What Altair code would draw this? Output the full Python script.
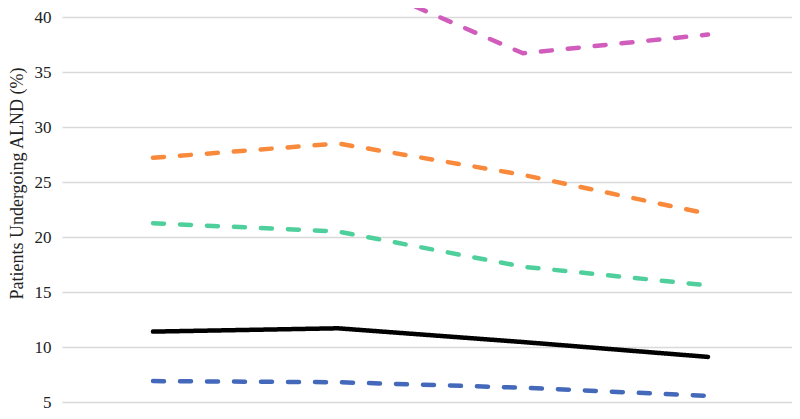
import altair as alt
import pandas as pd

periods = ["Period 1", "Period 2", "Period 3", "Period 4"]
series_names = ["Overall", "Group A", "Group B", "Group C", "Group D"]
overall = [11.4, 11.7, 10.45, 9.1]
group_a = [6.9, 6.8, 6.3, 5.55]
group_b = [21.25, 20.5, 17.3, 15.6]
group_c = [27.2, 28.5, 25.65, 22.1]
group_d = [43.0, 44.0, 36.7, 38.4]
colors = ["#000000", "#4468BA", "#4FCF9C", "#F98A3C", "#D05CBC"]
dashes = [[1, 0], [11, 16], [11, 16], [11, 16], [11, 16]]
y_ticks = [5, 10, 15, 20, 25, 30, 35, 40]

rows = []
for name, vals in zip(series_names, [overall, group_a, group_b, group_c, group_d]):
    for p, v in zip(periods, vals):
        rows.append({"period": p, "series": name, "value": v})
df = pd.DataFrame(rows)

serif = "Liberation Serif"

base = alt.Chart(df).encode(
    x=alt.X("period:N", sort=periods,
            scale=alt.Scale(type="point", padding=0.473, align=0.52),
            axis=None),
    y=alt.Y("value:Q",
            scale=alt.Scale(domain=[5, 40], nice=False, zero=False),
            axis=alt.Axis(values=y_ticks, title="Patients Undergoing ALND (%)",
                          ticks=False, tickSize=0, domain=False,
                          labelPadding=11, labelFontSize=17,
                          labelFont=serif, labelColor="#222222",
                          titleFont=serif, titleFontSize=18,
                          titleFontWeight="normal", titleColor="#222222",
                          titleAngle=270, titleBaseline="alphabetic",
                          titleX=-40, titleY=166, titleAlign="center",
                          gridColor="#d9d9d9", gridWidth=1.5)),
    color=alt.Color("series:N", sort=series_names,
                    scale=alt.Scale(domain=series_names, range=colors),
                    legend=None),
    strokeDash=alt.StrokeDash("series:N", sort=series_names,
                              scale=alt.Scale(domain=series_names, range=dashes),
                              legend=None),
)

lines = base.mark_line(strokeWidth=4.5, strokeCap="round", strokeJoin="round")

chart = lines.properties(
    width=730, height=385,
    autosize=alt.AutoSizeParams(type="none"),
    padding={"left": 54, "top": 9, "right": 0, "bottom": 9},
).configure_view(stroke=None)

chart.save("out.html", embed_options={"renderer": "svg", "actions": False})
